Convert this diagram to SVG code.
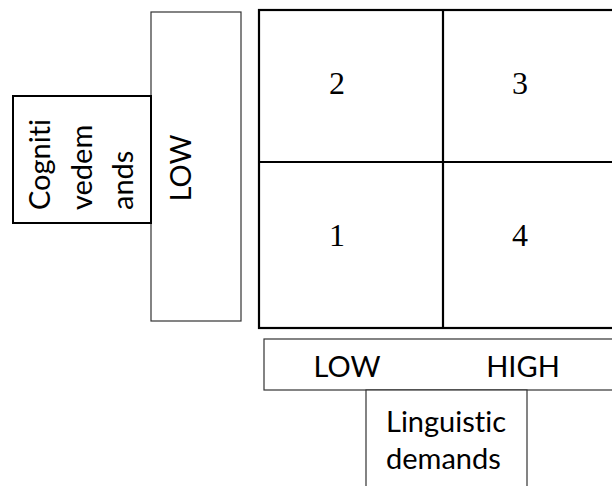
<svg xmlns="http://www.w3.org/2000/svg" width="612" height="486" viewBox="0 0 612 486">
<style>
.thin{fill:#fff;stroke:#333;stroke-width:1.2}
.thick{fill:none;stroke:#000;stroke-width:2.2}
.sans{font-family:Lato,"Open Sans","Liberation Sans",sans-serif;font-size:29px;fill:#000;font-variant-ligatures:none;font-feature-settings:"liga" 0}
.num{font-family:"Liberation Serif",serif;font-size:32px;fill:#000;text-anchor:middle}
</style>
<rect width="612" height="486" fill="#fff"/>
<g id="low-vertical">
<rect class="thin" x="151" y="12" width="90" height="309"/>
<text class="sans" transform="translate(191,168) rotate(-90)" text-anchor="middle">LOW</text>
</g>
<g id="cognitive">
<rect x="13" y="96" width="138" height="127" fill="#fff" stroke="#000" stroke-width="2"/>
<g class="sans">
<text transform="translate(50,210) rotate(-90)">Cogniti</text>
<text transform="translate(92,210) rotate(-90)">vedem</text>
<text transform="translate(133,210) rotate(-90)">ands</text>
</g>
</g>
<g id="grid">
<rect class="thick" x="259" y="10" width="400" height="318"/>
<line class="thick" x1="259" y1="162" x2="660" y2="162"/>
<line class="thick" x1="443" y1="10" x2="443" y2="328"/>
<text class="num" x="337" y="94">2</text>
<text class="num" x="520" y="94">3</text>
<text class="num" x="337" y="246">1</text>
<text class="num" x="520" y="246">4</text>
</g>
<g id="low-high">
<rect class="thin" x="264" y="339" width="400" height="51"/>
<text class="sans" x="347" y="377" text-anchor="middle">LOW</text>
<text class="sans" x="523" y="377" text-anchor="middle">HIGH</text>
</g>
<g id="linguistic">
<rect class="thin" x="366" y="390" width="161" height="120"/>
<text class="sans" x="386" y="432">Linguistic</text>
<text class="sans" x="386" y="469">demands</text>
</g>
<g id="connectors"/>
</svg>
